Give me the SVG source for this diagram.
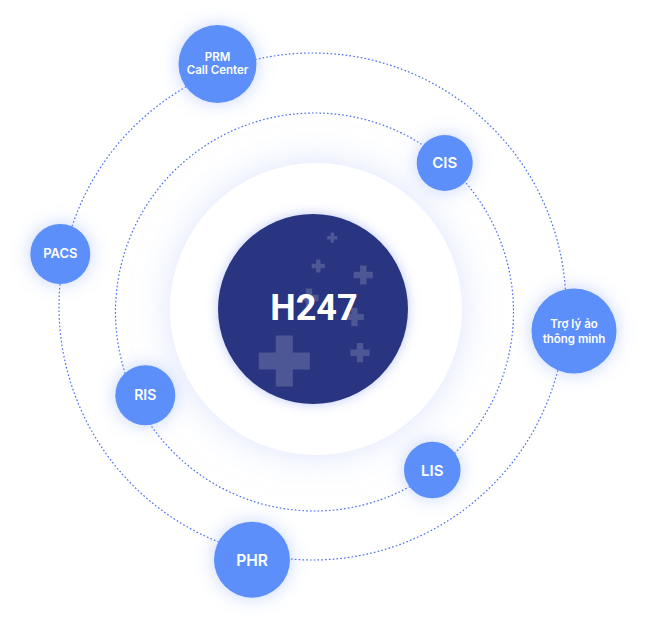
<svg xmlns="http://www.w3.org/2000/svg" width="647" height="632" viewBox="0 0 647 632">
  <defs>
    <filter id="nodeGlow" x="-60%" y="-60%" width="220%" height="220%">
      <feDropShadow dx="0" dy="0" stdDeviation="9" flood-color="#6f93f7" flood-opacity="0.4"/>
    </filter>
    <filter id="haloGlow" x="-40%" y="-40%" width="180%" height="180%">
      <feDropShadow dx="0" dy="0" stdDeviation="18" flood-color="#c5d1fa" flood-opacity="0.6"/>
    </filter>
    <filter id="coreGlow" x="-40%" y="-40%" width="180%" height="180%">
      <feDropShadow dx="0" dy="0" stdDeviation="6" flood-color="#6f86f2" flood-opacity="0.45"/>
    </filter>
    <path id="plus" d="M-1,-3 H1 V-1 H3 V1 H1 V3 H-1 V1 H-3 V-1 H-1 Z"/>
  </defs>
  <style>
    .orbit { fill: none; stroke: #4a6cf0; stroke-width: 1.2; stroke-dasharray: 1.6 2.2; }
    .node { fill: #5b8ffa; filter: url(#nodeGlow); }
    .lbl { fill: #ffffff; font-family: Inter, "Noto Sans", "Liberation Sans", sans-serif; font-weight: 600; text-anchor: middle; }
    .core { fill: #ffffff; font-family: Roboto, "Liberation Sans", sans-serif; font-weight: 700; text-anchor: middle; }
    .plus { fill: #ffffff; fill-opacity: 0.17; }
  </style>
  <rect width="647" height="632" fill="#ffffff"/>

  <g id="halo">
    <circle cx="316" cy="309" r="146" fill="#ffffff" filter="url(#haloGlow)"/>
  </g>

  <g id="connectors">
    <circle class="orbit" cx="314.5" cy="312" r="199"/>
    <circle class="orbit" cx="312.5" cy="306.5" r="253.5"/>
  </g>

  <g id="node-h247">
    <circle cx="313" cy="309" r="95" fill="#2b3681" filter="url(#coreGlow)"/>
    <use href="#plus" class="plus" transform="translate(332.3,237.7) scale(1.7)"/>
    <use href="#plus" class="plus" transform="translate(318.3,266) scale(2.2)"/>
    <use href="#plus" class="plus" transform="translate(363.3,275) scale(3.2)"/>
    <use href="#plus" class="plus" transform="translate(309,298) scale(3.2)"/>
    <use href="#plus" class="plus" transform="translate(354.5,317) scale(3.1)"/>
    <use href="#plus" class="plus" transform="translate(360,352.7) scale(3.2)"/>
    <use href="#plus" class="plus" transform="translate(284.3,361) scale(8.5)"/>
    <text class="core" x="314" y="319.5" font-size="36">H247</text>
  </g>

  <g id="node-prm">
    <circle class="node" cx="217.5" cy="64" r="39"/>
    <text class="lbl" x="217.5" y="60.5" font-size="11.5">PRM</text>
    <text class="lbl" x="217.5" y="73.5" font-size="11.5">Call Center</text>
  </g>

  <g id="node-cis">
    <circle class="node" cx="444.7" cy="163" r="28"/>
    <text class="lbl" x="444.7" y="168.3" font-size="15">CIS</text>
  </g>

  <g id="node-pacs">
    <circle class="node" cx="60.3" cy="254" r="30"/>
    <text class="lbl" x="60.3" y="258" font-size="13">PACS</text>
  </g>

  <g id="node-troly">
    <circle class="node" cx="574" cy="331" r="42.5"/>
    <text class="lbl" x="574" y="328" font-size="11.5">Trợ lý ảo</text>
    <text class="lbl" x="574" y="342.5" font-size="11.5">thông minh</text>
  </g>

  <g id="node-ris">
    <circle class="node" cx="145.3" cy="395.3" r="30"/>
    <text class="lbl" x="145.3" y="399.5" font-size="14">RIS</text>
  </g>

  <g id="node-lis">
    <circle class="node" cx="432.3" cy="470" r="28.3"/>
    <text class="lbl" x="432.3" y="475.5" font-size="15">LIS</text>
  </g>

  <g id="node-phr">
    <circle class="node" cx="252" cy="559.7" r="38"/>
    <text class="lbl" x="252" y="565.5" font-size="15.5">PHR</text>
  </g>
</svg>
